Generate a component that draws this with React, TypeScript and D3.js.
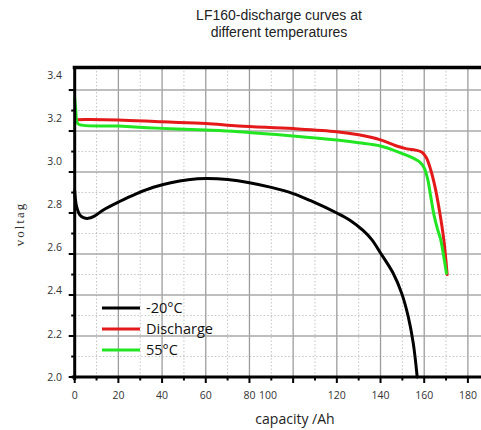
import React from "react";
import * as d3 from "d3";

const titleLines = ["LF160-discharge curves at", "different temperatures"];
const xAxisTitle = "capacity /Ah";
const yAxisTitle = "voltag";

const xTickLabels = ["0", "20", "40", "60", "80", "100", "120", "140", "160", "180"];
const xTickLabelAt = [0, 20, 40, 60, 80, 88.5, 120, 140, 160, 180];
const yTickLabels = ["2.0", "2.2", "2.4", "2.6", "2.8", "3.0", "3.2", "3.4"];

const seriesNames = ["-20°C", "Discharge", "55°C"];
const seriesColors = ["#000000", "#e41a1a", "#22e622"];

const coldX = [0, 0.3, 0.9, 2.4, 4, 6.2, 9, 13.1, 20.3, 28.4, 36, 44, 52, 60, 70, 80, 90, 100, 108, 120, 126, 132, 136, 139.7, 145.8, 149.7, 152.7, 155, 156.8];
const coldY = [2.91, 2.87, 2.83, 2.79, 2.778, 2.774, 2.785, 2.815, 2.855, 2.895, 2.926, 2.948, 2.962, 2.968, 2.963, 2.948, 2.925, 2.895, 2.86, 2.8, 2.765, 2.715, 2.67, 2.61, 2.506, 2.408, 2.294, 2.164, 2.0];

const dischX = [1.2, 5, 20, 40, 60, 75, 100, 120, 130, 140, 147, 152, 156, 159, 161, 163, 165, 167, 169, 170.5];
const dischY = [3.255, 3.256, 3.254, 3.245, 3.237, 3.225, 3.212, 3.197, 3.182, 3.157, 3.128, 3.113, 3.107, 3.097, 3.07, 3.01, 2.925, 2.81, 2.668, 2.5];

const hotX = [0, 0.5, 1, 2, 20, 40, 60, 75, 100, 120, 130, 140, 150, 155, 158, 160, 161.5, 163, 164.5, 166, 167.6, 168.7, 170.2];
const hotY = [3.36, 3.3, 3.245, 3.232, 3.224, 3.213, 3.205, 3.197, 3.176, 3.156, 3.143, 3.127, 3.09, 3.068, 3.048, 3.02, 2.97, 2.88, 2.79, 2.725, 2.668, 2.603, 2.506];

export default function App() {
  const W = 481, H = 430;
  const x = d3.scaleLinear().domain([0, 186]).range([74.7, 481]);
  const y = d3.scaleLinear().domain([2.0, 3.51]).range([377, 67.5]);
  const yLab = d3.scaleLinear().domain([2.0, 3.4]).range([377, 75]);

  const xMajor = d3.range(0, 181, 20);
  const xMinor = d3.range(10, 181, 20);
  const yMajor = d3.range(0, 8).map((i) => 2.0 + i * 0.2);
  const yMinor = d3.range(0, 7).map((i) => 2.1 + i * 0.2);

  const line = d3
    .line<[number, number]>()
    .x((d) => x(d[0]))
    .y((d) => y(d[1]))
    .curve(d3.curveCatmullRom.alpha(0.5));

  const series = [
    coldX.map((v, i) => [v, coldY[i]] as [number, number]),
    dischX.map((v, i) => [v, dischY[i]] as [number, number]),
    hotX.map((v, i) => [v, hotY[i]] as [number, number]),
  ];
  const drawOrder = [0, 1, 2];

  const x0 = x(0), yb = y(2.0), yt = y.range()[1];
  const sans = "'Open Sans', 'Liberation Sans', sans-serif";
  const titleFont = "'Liberation Sans', Arial, sans-serif";

  return (
    <svg width={W} height={H} style={{ position: "absolute", left: 0, top: 0, background: "#fff" }}>
      <rect width={W} height={H} fill="#fff" />
      {titleLines.map((t, i) => (
        <text key={t} x={279} y={20 + i * 17} textAnchor="middle" fontFamily={titleFont} fontSize={14} fill="#222">
          {t}
        </text>
      ))}
      {xMinor.map((v) => (
        <line key={"xm" + v} x1={x(v)} x2={x(v)} y1={yt} y2={yb} stroke="#c4c4c4" strokeWidth={1} strokeDasharray="1.5,2" />
      ))}
      {yMinor.map((v) => (
        <line key={"ym" + v} x1={x0} x2={W} y1={y(v)} y2={y(v)} stroke="#c4c4c4" strokeWidth={1} strokeDasharray="1.5,2" />
      ))}
      {xMajor.map((v) => (
        <line key={"xg" + v} x1={x(v)} x2={x(v)} y1={yt} y2={yb} stroke="#9c9c9c" strokeWidth={1.3} />
      ))}
      {yMajor.map((v) => (
        <line key={"yg" + v} x1={x0} x2={W} y1={y(v)} y2={y(v)} stroke="#a8a8a8" strokeWidth={1.5} />
      ))}
      {drawOrder.map((i) => (
        <path key={"s" + i} d={line(series[i]) || ""} fill="none" stroke={seriesColors[i]} strokeWidth={3} strokeLinejoin="round" strokeLinecap="round" />
      ))}
      <line x1={x0 - 2} x2={W} y1={yt} y2={yt} stroke="#000" strokeWidth={3.5} />
      <line x1={x0} x2={x0} y1={yt - 1.5} y2={yb + 3} stroke="#000" strokeWidth={3} />
      <line x1={x0 - 3} x2={W} y1={yb} y2={yb} stroke="#000" strokeWidth={3} />
      {yMajor.map((v) => (
        <line key={"yt" + v} x1={x0 - 6} x2={x0} y1={y(v)} y2={y(v)} stroke="#000" strokeWidth={2} />
      ))}
      {yMinor.map((v) => (
        <line key={"ymt" + v} x1={x0 - 3.5} x2={x0} y1={y(v)} y2={y(v)} stroke="#000" strokeWidth={2} />
      ))}
      {xMajor.map((v) => (
        <line key={"xt" + v} x1={x(v)} x2={x(v)} y1={yb} y2={yb + 6} stroke="#000" strokeWidth={2} />
      ))}
      {xMinor.map((v) => (
        <line key={"xmt" + v} x1={x(v)} x2={x(v)} y1={yb} y2={yb + 3.5} stroke="#000" strokeWidth={2} />
      ))}
      {yTickLabels.map((t) => (
        <text key={"yl" + t} x={62} y={yLab(+t)} dy="0.35em" textAnchor="end" fontFamily={sans} fontSize={10.5} fill="#333">
          {t}
        </text>
      ))}
      {xTickLabels.map((t, i) => (
        <text key={"xl" + t} x={x(xTickLabelAt[i])} y={399} textAnchor="middle" fontFamily={sans} fontSize={10.5} fill="#333">
          {t}
        </text>
      ))}
      <text x={295} y={424} textAnchor="middle" fontFamily={sans} fontSize={14} fill="#222">
        {xAxisTitle}
      </text>
      <text
        transform={`translate(24, 224) rotate(-90)`}
        textAnchor="middle"
        fontFamily="'Liberation Serif', 'DejaVu Serif', serif"
        fontSize={13}
        letterSpacing={2}
        fill="#333"
      >
        {yAxisTitle}
      </text>
      {seriesNames.map((n, i) => (
        <g key={"lg" + n}>
          <line x1={102} x2={140} y1={308 + i * 21} y2={308 + i * 21} stroke={seriesColors[i]} strokeWidth={3} />
          <text x={146} y={308 + i * 21} dy="0.35em" fontFamily={sans} fontSize={14.5} fill="#111">
            {n}
          </text>
        </g>
      ))}
    </svg>
  );
}
